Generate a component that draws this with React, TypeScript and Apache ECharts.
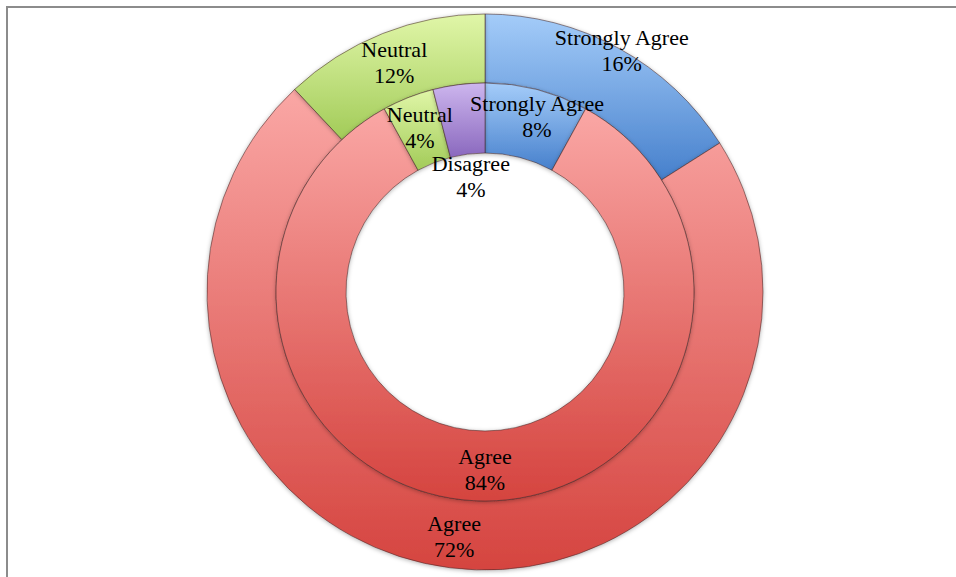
import React, { useEffect, useRef } from "react";
import * as echarts from "echarts";

const outerCategories = ["Strongly Agree", "Agree", "Neutral"];
const outerValues = [16, 72, 12];
const innerCategories = ["Strongly Agree", "Agree", "Neutral", "Disagree"];
const innerValues = [8, 84, 4, 4];

const palette: Record<string, [string, string]> = {
  "Strongly Agree": ["#A4CCF9", "#4680CC"],
  Agree: ["#FAA7A5", "#D5443F"],
  Neutral: ["#E0F6A8", "#A2CB58"],
  Disagree: ["#CDB6EE", "#8A68BE"],
};

// label nudges (Excel moved a couple of labels off their centroid)
const outerLabelShift: Record<number, [number, number]> = { 0: [18, -25] };
const innerLabelShift: Record<number, [number, number]> = { 0: [8, -4], 3: [8, 60] };

function grad(name: string) {
  const [a, b] = palette[name];
  return new echarts.graphic.LinearGradient(0, 0, 0, 1, [
    { offset: 0, color: a },
    { offset: 1, color: b },
  ]);
}

function makeData(cats: string[], vals: number[]) {
  return cats.map((c, i) => ({
    name: c,
    value: vals[i],
    itemStyle: { color: grad(c) },
  }));
}

export default function App() {
  const ref = useRef<HTMLDivElement>(null);
  useEffect(() => {
    document.body.style.margin = "0";
    if (!ref.current) return;
    const chart = echarts.init(ref.current, null, { renderer: "svg" });
    const labelStyle = {
      show: true,
      position: "inside" as const,
      formatter: "{b}\n{c}%",
      color: "#000",
      fontFamily: "Liberation Serif",
      fontSize: 22,
      lineHeight: 26,
    };
    const itemStyle = {
      borderColor: "rgba(70,40,40,0.55)",
      borderWidth: 1,
      shadowBlur: 4,
      shadowColor: "rgba(0,0,0,0.3)",
      shadowOffsetY: 1,
    };
    chart.setOption({
      animation: false,
      backgroundColor: "#fff",
      graphic: [
        {
          type: "rect",
          shape: { x: 7, y: 7, width: 1200, height: 1200 },
          style: { fill: "none", stroke: "#8c8c8c", lineWidth: 2 },
          z: 100,
          silent: true,
        },
      ],
      series: [
        {
          type: "pie",
          center: [485, 292],
          radius: [209, 278],
          startAngle: 90,
          clockwise: true,
          avoidLabelOverlap: false,
          label: labelStyle,
          labelLine: { show: false },
          itemStyle,
          emphasis: { disabled: true },
          labelLayout: (p: any) => {
            const s = outerLabelShift[p.dataIndex];
            return s ? { dx: s[0], dy: s[1] } : {};
          },
          data: makeData(outerCategories, outerValues),
        },
        {
          type: "pie",
          center: [485, 292],
          radius: [139, 209],
          startAngle: 90,
          clockwise: true,
          avoidLabelOverlap: false,
          label: labelStyle,
          labelLine: { show: false },
          itemStyle,
          emphasis: { disabled: true },
          labelLayout: (p: any) => {
            const s = innerLabelShift[p.dataIndex];
            return s ? { dx: s[0], dy: s[1] } : {};
          },
          data: makeData(innerCategories, innerValues),
        },
      ],
    });
    return () => chart.dispose();
  }, []);
  return <div ref={ref} style={{ width: 956, height: 577 }} />;
}
